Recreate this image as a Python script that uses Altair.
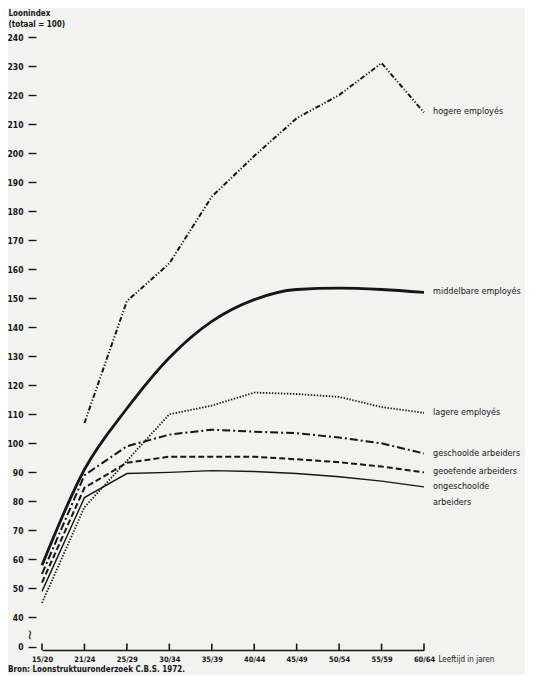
import altair as alt
import pandas as pd

# ---- data ----
ages = ["15/20", "21/24", "25/29", "30/34", "35/39", "40/44", "45/49", "50/54", "55/59", "60/64"]

hogere = [None, 107, 149, 162, 185, 199, 212, 220, 231, 214]
middelbare = [58, 91, 112, 129.5, 142, 149.5, 153, 153.5, 153, 152]
lagere = [45, 78, 94, 110, 113, 117.5, 117, 116, 112.5, 110.5]
geschoolde = [55, 89, 99, 103, 104.7, 104, 103.5, 102, 100, 96.5]
geoefende = [52, 84.7, 93.3, 95.4, 95.4, 95.4, 94.5, 93.5, 92, 90]
ongeschoolde = [49, 81.3, 89.6, 90, 90.6, 90.3, 89.6, 88.5, 87, 85]

series_names = ["hogere employés", "middelbare employés", "lagere employés",
                "geschoolde arbeiders", "geoefende arbeiders", "ongeschoolde arbeiders"]
series_values = [hogere, middelbare, lagere, geschoolde, geoefende, ongeschoolde]
series_labels = ["hogere employés", "middelbare employés", "lagere employés",
                 "geschoolde arbeiders", "geoefende arbeiders", "ongeschoolde\narbeiders"]

y_ticks = [30, 40, 50, 60, 70, 80, 90, 100, 110, 120, 130, 140, 150, 160, 170,
           180, 190, 200, 210, 220, 230, 240]
break_value = 30      # axis position that carries the "0" label (broken axis)
break_label = "0"

y_title = ["Loonindex", "(totaal = 100)"]
x_title = "Leeftijd in jaren"
source = "Bron: Loonstruktuuronderzoek C.B.S. 1972."

# ---- styles ----
INK = "#161616"
FONT = "DejaVu Sans Condensed, Liberation Sans Narrow, sans-serif"
styles = {
    "hogere employés": dict(strokeWidth=2.0, strokeDash=[5, 2, 1.2, 2, 1.2, 2]),
    "middelbare employés": dict(strokeWidth=2.8, interpolate="monotone"),
    "lagere employés": dict(strokeWidth=1.8, strokeDash=[1.4, 1.6]),
    "geschoolde arbeiders": dict(strokeWidth=2.0, strokeDash=[8, 3, 2, 3]),
    "geoefende arbeiders": dict(strokeWidth=2.0, strokeDash=[6, 3]),
    "ongeschoolde arbeiders": dict(strokeWidth=1.4),
}

rows = []
for name, vals in zip(series_names, series_values):
    for a, v in zip(ages, vals):
        if v is not None:
            rows.append({"serie": name, "age": a, "value": v})
df = pd.DataFrame(rows)

Y_MIN = 28.8
y_scale = alt.Scale(domain=[Y_MIN, 240], nice=False, zero=False)
x_scale = alt.Scale(type="point", padding=0)

x_axis = alt.Axis(title=x_title, titleX=396, titleY=9, titleAlign="left",
                  titleBaseline="middle", titleAngle=0, titleFontSize=8,
                  titleFontWeight="normal", titleFont=FONT, titleColor=INK,
                  labelAngle=0, ticks=False, tickSize=0, labelPadding=5,
                  labelFontSize=7.5, labelFont=FONT, labelFontWeight="bold",
                  labelColor=INK, labelOverlap=False,
                  domainColor=INK, domainWidth=1.6)
y_axis = alt.Axis(values=y_ticks,
                  labelExpr=f"datum.value == {break_value} ? '{break_label}' : datum.label",
                  labelOverlap=False, labelBound=False,
                  domain=False, grid=False, tickSize=8, tickWidth=1.4,
                  tickColor=INK, offset=6, labelPadding=5, labelFontSize=8.5,
                  labelFont=FONT, labelFontWeight="bold", labelColor=INK,
                  title=y_title, titleAngle=0, titleAlign="left",
                  titleBaseline="top", titleX=-28, titleY=-28,
                  titleFontSize=8, titleFont=FONT, titleFontWeight="bold",
                  titleColor=INK, titleLineHeight=11)


def X():
    return alt.X("age:O", sort=ages, scale=x_scale, axis=x_axis)


def Y(field):
    return alt.Y(field, scale=y_scale, axis=y_axis)


layers = []
for name in series_names:
    st = styles[name]
    layers.append(
        alt.Chart(df[df["serie"] == name]).mark_line(color=INK, **st).encode(
            x=X(), y=Y("value:Q"))
    )

# upward tick marks on the x axis (drawn as short rules)
ticks_df = pd.DataFrame({"age": ages, "lo": [Y_MIN] * len(ages), "hi": [31.0] * len(ages)})
tick_layer = alt.Chart(ticks_df).mark_rule(color=INK, strokeWidth=1.6, opacity=1).encode(
    x=X(), y=Y("lo:Q"), y2=alt.Y2("hi:Q"),
)

# series labels at the right end
lab_df = pd.DataFrame({
    "age": [ages[-1]] * len(series_names),
    "value": [v[-1] for v in series_values],
    "label": series_labels,
})
label_layer = alt.Chart(lab_df).mark_text(
    align="left", baseline="top", dx=9, dy=-5, lineBreak="\n", lineHeight=16,
    fontSize=9, font=FONT, color=INK
).encode(x=X(), y=Y("value:Q"), text="label:N")

# axis break glyph
brk_df = pd.DataFrame({"value": [34]})
brk = alt.Chart(brk_df).mark_text(
    text="~", angle=90, fontSize=14, color=INK, font="DejaVu Sans"
).encode(x=alt.value(-13), y=Y("value:Q"))

chart = alt.layer(*layers, label_layer, brk, tick_layer).properties(
    width=382, height=613,
    autosize=alt.AutoSizeParams(type="none"),
    padding={"left": 34, "top": 29, "right": 101, "bottom": 25},
    title=alt.TitleParams(source, orient="bottom", anchor="start", frame="group",
                          dx=-34, offset=3, fontSize=8, font=FONT,
                          fontWeight="bold", color=INK),
    background="#f2f2f0",
).configure_view(stroke=None)

chart.save("out.html", embed_options={"renderer": "svg", "actions": False})
